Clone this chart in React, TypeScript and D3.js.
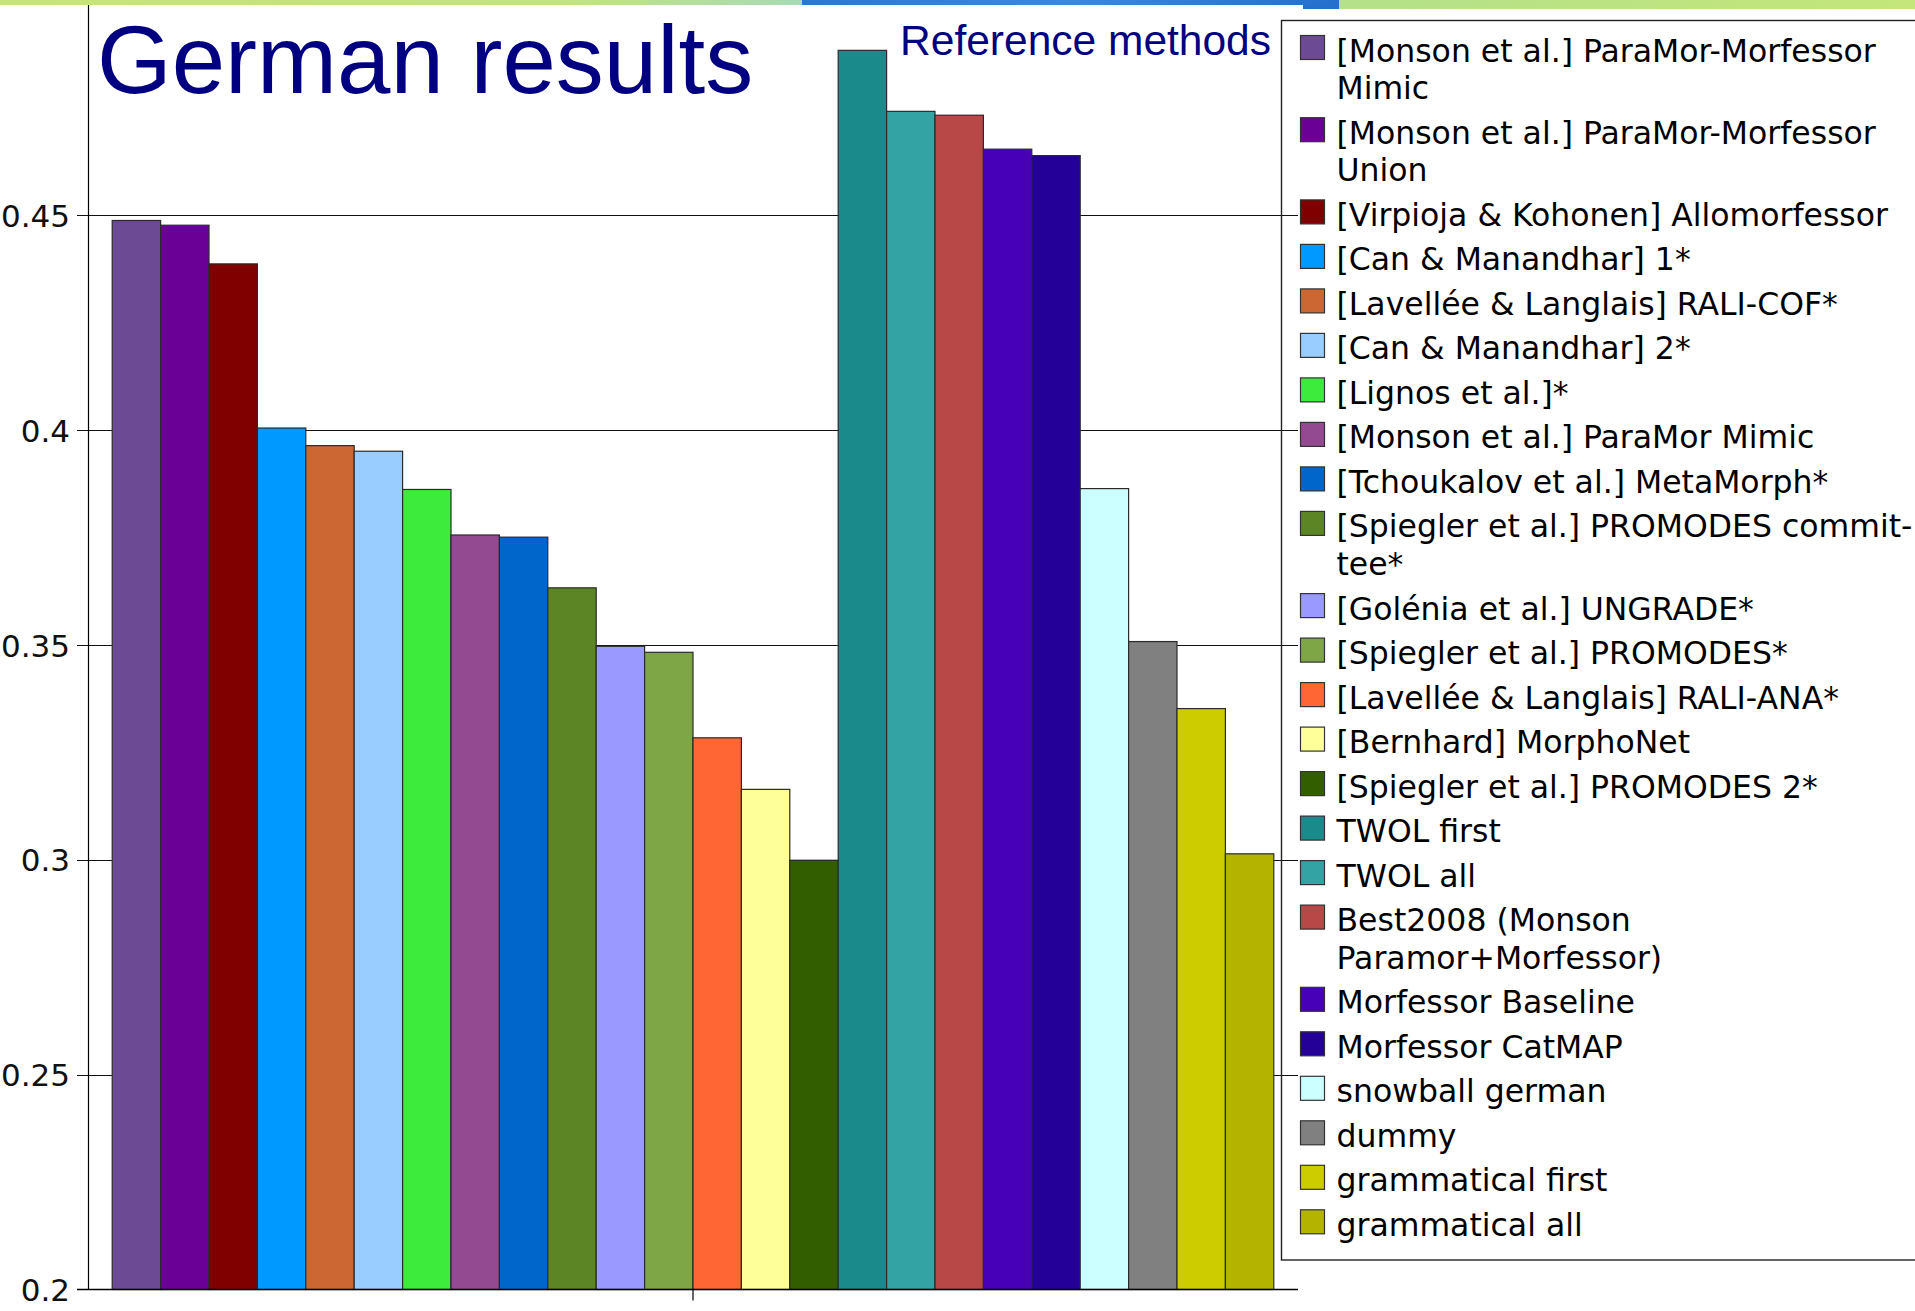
import React, { useEffect } from "react";
import * as d3 from "d3";

// Methods (legend text, pre-wrapped into lines), in bar order
const methodLines: string[][] = [
  ["[Monson et al.] ParaMor-Morfessor", "Mimic"],
  ["[Monson et al.] ParaMor-Morfessor", "Union"],
  ["[Virpioja & Kohonen] Allomorfessor"],
  ["[Can & Manandhar] 1*"],
  ["[Lavellée & Langlais] RALI-COF*"],
  ["[Can & Manandhar] 2*"],
  ["[Lignos et al.]*"],
  ["[Monson et al.] ParaMor Mimic"],
  ["[Tchoukalov et al.] MetaMorph*"],
  ["[Spiegler et al.] PROMODES commit-", "tee*"],
  ["[Golénia et al.] UNGRADE*"],
  ["[Spiegler et al.] PROMODES*"],
  ["[Lavellée & Langlais] RALI-ANA*"],
  ["[Bernhard] MorphoNet"],
  ["[Spiegler et al.] PROMODES 2*"],
  ["TWOL first"],
  ["TWOL all"],
  ["Best2008 (Monson", "Paramor+Morfessor)"],
  ["Morfessor Baseline"],
  ["Morfessor CatMAP"],
  ["snowball german"],
  ["dummy"],
  ["grammatical first"],
  ["grammatical all"],
];

// F-measure per method
const scores: number[] = [
  0.4488, 0.4477, 0.4387, 0.4005, 0.3964, 0.3951, 0.3862, 0.3756, 0.3751,
  0.3633, 0.3497, 0.3483, 0.3284, 0.3164, 0.2999, 0.4884, 0.4742, 0.4733,
  0.4654, 0.4639, 0.3864, 0.3508, 0.3352, 0.3014,
];

const barColors: string[] = [
  "#6d4a94", "#6b0096", "#800000", "#0099ff", "#cc6633", "#99ccff",
  "#3deb3d", "#934a91", "#0066cc", "#5c8526", "#9999ff", "#7ea646",
  "#ff6633", "#ffff99", "#335e00", "#1a8a8a", "#33a3a3", "#b84747",
  "#4700b8", "#240099", "#ccffff", "#808080", "#cccc00", "#b3b300",
];

const yTicks: number[] = [0.2, 0.25, 0.3, 0.35, 0.4, 0.45];
const yTickLabels: string[] = ["0.2", "0.25", "0.3", "0.35", "0.4", "0.45"];

const W = 1915;
const H = 1311;

export default function App() {
  useEffect(() => {
    document.body.style.margin = "0";
  }, []);

  const x = d3
    .scaleBand<number>()
    .domain(d3.range(scores.length))
    .range([88, 1298])
    .paddingInner(0)
    .paddingOuter(0.5);

  const y = d3.scaleLinear().domain([0.2, 0.5]).range([1289.5, 0.5]);
  const base = y(0.2);

  // legend rows: single-line step plus extra height for wrapped lines
  const rowStep = 44.5;
  const lineStep = 37.7;
  const legendTops: number[] = [];
  let acc = 35;
  methodLines.forEach((lines) => {
    legendTops.push(acc);
    acc += rowStep + (lines.length - 1) * lineStep;
  });

  const sans = "'DejaVu Sans', Verdana, sans-serif";
  const arial = "'Liberation Sans', Arial, sans-serif";

  return (
    <div style={{ position: "absolute", left: 0, top: 0 }}>
      <svg width={W} height={H} viewBox={`0 0 ${W} ${H}`} style={{ display: "block" }}>
        <defs>
          <linearGradient id="bandLeft" x1="0" x2="1" y1="0" y2="0">
            <stop offset="0" stopColor="#c6e47a" />
            <stop offset="0.7" stopColor="#c2e382" />
            <stop offset="1" stopColor="#a8dbb4" />
          </linearGradient>
          <linearGradient id="bandBlue" x1="0" x2="1" y1="0" y2="0">
            <stop offset="0" stopColor="#2a78d2" />
            <stop offset="0.5" stopColor="#3a88de" />
            <stop offset="1" stopColor="#2470cc" />
          </linearGradient>
          <linearGradient id="bandRight" x1="0" x2="1" y1="0" y2="0">
            <stop offset="0" stopColor="#b4e18a" />
            <stop offset="1" stopColor="#c4e67a" />
          </linearGradient>
        </defs>

        <rect x={0} y={0} width={W} height={H} fill="#ffffff" />

        {/* slide header band */}
        <rect x={0} y={0} width={802} height={5} fill="url(#bandLeft)" />
        <rect x={802} y={0} width={537} height={5} fill="url(#bandBlue)" />
        <rect x={1303} y={5} width={36} height={4} fill="#2470cc" />
        <rect x={1339} y={0} width={W - 1339} height={9} fill="url(#bandRight)" />

        {/* horizontal grid lines */}
        {yTicks.slice(1).map((t) => (
          <line
            key={`g${t}`}
            x1={77}
            x2={1298}
            y1={Math.round(y(t)) + 0.5}
            y2={Math.round(y(t)) + 0.5}
            stroke="#111"
            strokeWidth={1}
          />
        ))}

        {/* bars */}
        {scores.map((v, i) => (
          <rect
            key={`b${i}`}
            x={x(i)}
            y={y(v)}
            width={x.bandwidth()}
            height={base - y(v)}
            fill={barColors[i]}
            stroke="#2a2a2a"
            strokeWidth={1.2}
          />
        ))}

        {/* axes */}
        <line x1={88.5} x2={88.5} y1={5} y2={base} stroke="#000" strokeWidth={1.2} />
        <line x1={77} x2={1298} y1={base} y2={base} stroke="#000" strokeWidth={1.6} />
        <line
          x1={(x.range()[0] + x.range()[1]) / 2}
          x2={(x.range()[0] + x.range()[1]) / 2}
          y1={base}
          y2={base + 11}
          stroke="#000"
          strokeWidth={1.2}
        />

        {/* y tick labels */}
        {yTicks.map((t, i) => (
          <text
            key={`t${t}`}
            x={70}
            y={y(t) + 11.5}
            textAnchor="end"
            fontFamily={sans}
            fontSize={31}
            fill="#111"
          >
            {yTickLabels[i]}
          </text>
        ))}

        {/* titles */}
        <text x={97} y={93} fontFamily={arial} fontSize={96} fill="#000080">
          German results
        </text>
        <text x={1271} y={55} textAnchor="end" fontFamily={arial} fontSize={42.5} fill="#000080">
          Reference methods
        </text>

        {/* legend */}
        <rect x={1281.5} y={20.5} width={700} height={1239.5} fill="none" stroke="#222" strokeWidth={1.4} />
        {methodLines.map((lines, i) => (
          <g key={`l${i}`}>
            <rect
              x={1300.5}
              y={legendTops[i] + 0.5}
              width={24}
              height={24}
              fill={barColors[i]}
              stroke="#333"
              strokeWidth={1.2}
            />
            {lines.map((ln, j) => (
              <text
                key={j}
                x={1336.5}
                y={legendTops[i] + 26.5 + j * lineStep}
                fontFamily={sans}
                fontSize={31.5}
                fill="#000"
              >
                {ln}
              </text>
            ))}
          </g>
        ))}
      </svg>
    </div>
  );
}
